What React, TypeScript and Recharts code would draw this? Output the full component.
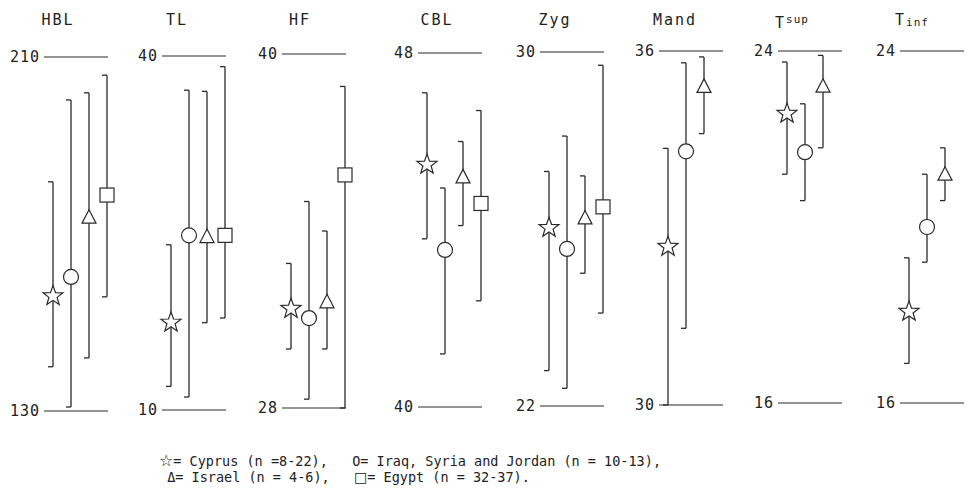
import { ComposedChart, Line, XAxis, YAxis, ReferenceLine } from 'recharts';

// measurements shown, one panel each
const measures = ['HBL', 'TL', 'HF', 'CBL', 'Zyg', 'Mand', 'Tsup', 'Tinf'];
const axisMin = [130, 10, 28, 40, 22, 30, 16, 16];
const axisMax = [210, 40, 40, 48, 30, 36, 24, 24];

// range (low/high) and mean per population
const cyprusLow = [140, 12.0, 30.0, 43.8, 22.8, 30.0, 21.2, 16.9];
const cyprusMean = [156.2, 17.5, 31.4, 45.5, 26.05, 32.7, 22.6, 18.1];
const cyprusHigh = [181.8, 24.0, 32.9, 47.1, 27.3, 34.35, 23.75, 19.3];

const iraqLow = [130.9, 11.1, 28.3, 41.2, 22.4, 31.3, 20.6, 19.2];
const iraqMean = [160.3, 24.8, 31.05, 43.55, 25.55, 34.3, 21.7, 20.0];
const iraqHigh = [200.3, 37.1, 35.0, 44.95, 28.1, 35.8, 22.8, 21.2];

const israelLow = [142, 17.4, 30.0, 44.1, 25.0, 34.6, 21.8, 20.6];
const israelMean = [173.8, 24.7, 31.6, 45.2, 26.25, 35.4, 23.2, 21.2];
const israelHigh = [201.9, 37.0, 34.0, 46.0, 27.2, 35.9, 23.9, 21.8];

const egyptLow = [155.8, 17.8, 28.0, 42.4, 24.1, null, null, null];
const egyptMean = [178.8, 24.8, 35.9, 44.6, 26.5, null, null, null];
const egyptHigh = [205.9, 39.1, 38.9, 46.7, 29.7, null, null, null];

type Marker = 'star' | 'circle' | 'triangle' | 'square';

const groups: { name: string; marker: Marker; low: (number | null)[]; mean: (number | null)[]; high: (number | null)[] }[] = [
  { name: 'Cyprus', marker: 'star', low: cyprusLow, mean: cyprusMean, high: cyprusHigh },
  { name: 'Iraq, Syria and Jordan', marker: 'circle', low: iraqLow, mean: iraqMean, high: iraqHigh },
  { name: 'Israel', marker: 'triangle', low: israelLow, mean: israelMean, high: israelHigh },
  { name: 'Egypt', marker: 'square', low: egyptLow, mean: egyptMean, high: egyptHigh },
];

// panel placement (the scan is slightly tilted, so tops/bottoms drift a little)
const plotLeft = [44, 162, 282, 418, 540, 659, 778, 900];
const plotTop = [57, 56, 54, 53, 52, 51, 51, 51];
const plotBottom = [411, 410, 408, 407, 406, 405, 403, 403];
const titleX = [58, 177, 300, 437, 555, 675, 792, 912];

const INK = '#2a2a2a';
const MONO = '"DejaVu Sans Mono", monospace';

function starPath(cx: number, cy: number, ro: number, ri: number) {
  let d = '';
  for (let k = 0; k < 10; k++) {
    const r = k % 2 === 0 ? ro : ri;
    const a = ((-90 + k * 36) * Math.PI) / 180;
    d += `${k === 0 ? 'M' : 'L'}${cx + r * Math.cos(a)},${cy + r * Math.sin(a)}`;
  }
  return d + 'Z';
}

function MarkerShape({ kind, cx, cy }: { kind: Marker; cx: number; cy: number }) {
  const common = { fill: '#fff', stroke: INK, strokeWidth: 1.2 };
  if (kind === 'star') return <path d={starPath(cx, cy + 1, 10.5, 4.3)} {...common} />;
  if (kind === 'circle') return <circle cx={cx} cy={cy} r={7.5} {...common} />;
  if (kind === 'triangle')
    return <path d={`M${cx},${cy - 7.5}L${cx + 7},${cy + 6}L${cx - 7},${cy + 6}Z`} {...common} />;
  return <rect x={cx - 7} y={cy - 7} width={14} height={14} {...common} />;
}

// index 0 = top of range, 1 = mean, 2 = bottom of range
function makeDot(kind: Marker) {
  return (p: any) => {
    const { cx, cy, index } = p;
    if (cx == null || cy == null) return <g key={`d${index}`} />;
    if (index === 1) {
      return (
        <g key={`d${index}`}>
          <MarkerShape kind={kind} cx={cx} cy={cy} />
        </g>
      );
    }
    return <path key={`d${index}`} d={`M${cx - 5},${cy}H${cx}`} stroke={INK} strokeWidth={1.3} fill="none" />;
  };
}

function refLabel(v: number) {
  return {
    value: String(v),
    position: 'left' as const,
    offset: 4,
    fill: '#222',
    fontSize: 15,
    fontFamily: MONO,
    letterSpacing: 1,
  };
}

function Panel({ i }: { i: number }) {
  const left = 42;
  const plotW = 64;
  const right = 14;
  const height = plotBottom[i] + 14;
  return (
    <div style={{ position: 'absolute', left: plotLeft[i] - left, top: 0 }}>
      <ComposedChart
        width={left + plotW + right}
        height={height}
        margin={{ top: plotTop[i], right, bottom: height - plotBottom[i], left }}
      >
        <XAxis type="number" dataKey="x" domain={[0, 3]} padding={{ left: 9, right: 1 }} hide />
        <YAxis type="number" domain={[axisMin[i], axisMax[i]]} hide />
        <ReferenceLine y={axisMax[i]} stroke={INK} strokeWidth={1.2} label={refLabel(axisMax[i])} />
        <ReferenceLine y={axisMin[i]} stroke={INK} strokeWidth={1.2} label={refLabel(axisMin[i])} />
        {groups.map((g, gi) =>
          g.mean[i] == null ? null : (
            <Line
              key={g.name}
              data={[
                { x: gi, y: g.high[i] },
                { x: gi, y: g.mean[i] },
                { x: gi, y: g.low[i] },
              ]}
              dataKey="y"
              stroke={INK}
              strokeWidth={1.3}
              dot={makeDot(g.marker)}
              activeDot={false}
              isAnimationActive={false}
            />
          )
        )}
      </ComposedChart>
    </div>
  );
}

function Title({ i }: { i: number }) {
  const m = measures[i];
  let content: any = m;
  if (m === 'Tsup') {
    content = (
      <>
        T<span style={{ fontSize: 11, verticalAlign: 5, letterSpacing: 1 }}>sup</span>
      </>
    );
  } else if (m === 'Tinf') {
    content = (
      <>
        T<span style={{ fontSize: 11, verticalAlign: -1, letterSpacing: 1 }}>inf</span>
      </>
    );
  }
  return (
    <div
      style={{
        position: 'absolute',
        left: titleX[i] - 40,
        width: 80,
        top: 10,
        textAlign: 'center',
        fontFamily: MONO,
        fontSize: 15,
        letterSpacing: 2,
        color: '#222',
        lineHeight: '20px',
      }}
    >
      {content}
    </div>
  );
}

export default function App() {
  const sym = { fontSize: 16, fontFamily: '"DejaVu Sans", sans-serif' };
  return (
    <div style={{ position: 'absolute', left: 0, top: 0, width: 968, height: 498, background: '#fff', overflow: 'hidden' }}>
      {measures.map((m, i) => (
        <Title key={`t-${m}`} i={i} />
      ))}
      {measures.map((m, i) => (
        <Panel key={`p-${m}`} i={i} />
      ))}
      <div
        style={{
          position: 'absolute',
          left: 159,
          top: 453,
          fontFamily: MONO,
          fontSize: 13.5,
          lineHeight: '16px',
          whiteSpace: 'pre',
          color: '#222',
        }}
      >
        <div>
          <span style={sym}>☆</span>
          {'= Cyprus (n =8-22),   O= Iraq, Syria and Jordan (n = 10-13),'}
        </div>
        <div>
          {' Δ= Israel (n = 4-6),   '}
          <span style={{ ...sym, fontSize: 14 }}>□</span>
          {'= Egypt (n = 32-37).'}
        </div>
      </div>
    </div>
  );
}
